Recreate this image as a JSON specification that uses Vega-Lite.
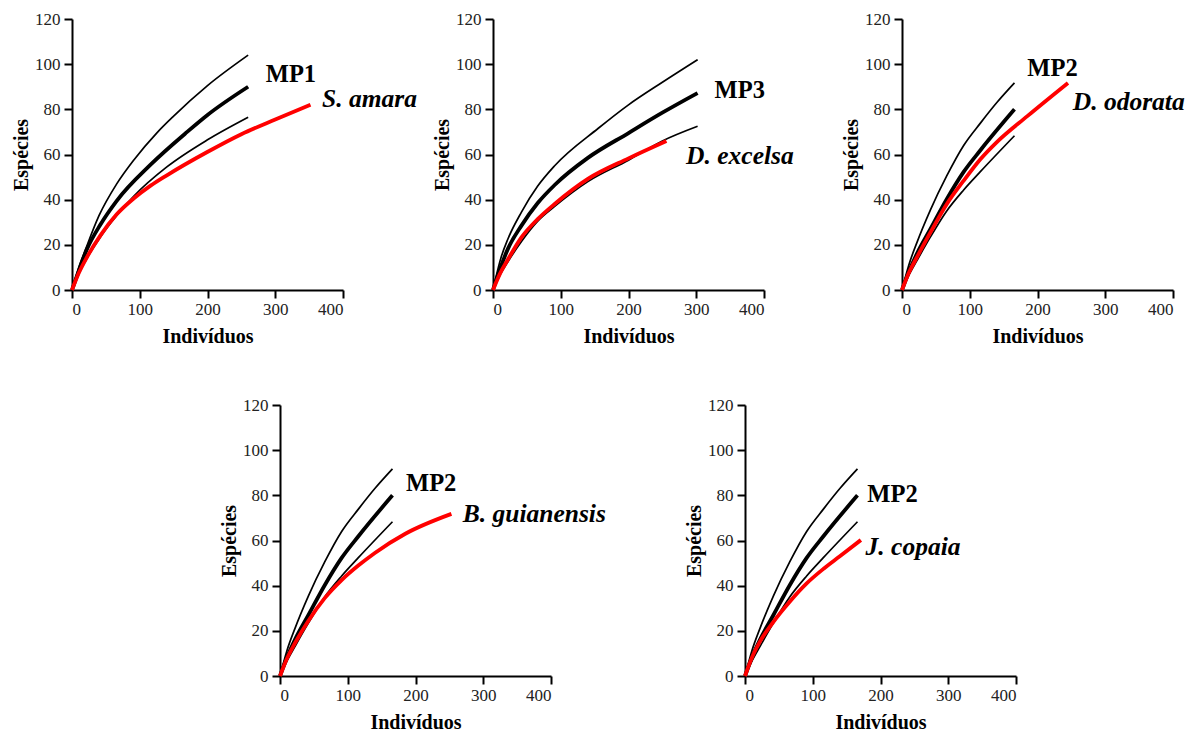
{
  "$schema": "https://vega.github.io/schema/vega-lite/v6.json",
  "background": "#ffffff",
  "padding": {"left": 11, "top": 10, "right": 2, "bottom": 2},
  "spacing": 50,
  "datasets": {
    "mp1": [
      {"series": "upper", "x": 0, "y": 0}, {"series": "upper", "x": 10, "y": 10}, {"series": "upper", "x": 20, "y": 18}, {"series": "upper", "x": 40, "y": 33}, {"series": "upper", "x": 66, "y": 47}, {"series": "upper", "x": 91, "y": 57.5}, {"series": "upper", "x": 125, "y": 69.5}, {"series": "upper", "x": 150, "y": 77}, {"series": "upper", "x": 200, "y": 90.5}, {"series": "upper", "x": 260, "y": 104},
      {"series": "mean", "x": 0, "y": 0}, {"series": "mean", "x": 10, "y": 8.5}, {"series": "mean", "x": 22, "y": 18}, {"series": "mean", "x": 42, "y": 29}, {"series": "mean", "x": 66, "y": 39.5}, {"series": "mean", "x": 116, "y": 55.5}, {"series": "mean", "x": 170, "y": 70}, {"series": "mean", "x": 200, "y": 77.5}, {"series": "mean", "x": 260, "y": 90},
      {"series": "lower", "x": 0, "y": 0}, {"series": "lower", "x": 10, "y": 7}, {"series": "lower", "x": 22, "y": 14}, {"series": "lower", "x": 42, "y": 23.5}, {"series": "lower", "x": 66, "y": 33}, {"series": "lower", "x": 91, "y": 41.5}, {"series": "lower", "x": 140, "y": 54.5}, {"series": "lower", "x": 200, "y": 66.5}, {"series": "lower", "x": 260, "y": 76.5}
    ],
    "amara": [
      {"x": 0, "y": 0}, {"x": 10, "y": 7.5}, {"x": 22, "y": 14.5}, {"x": 42, "y": 24.2}, {"x": 66, "y": 33.5}, {"x": 91, "y": 40.5}, {"x": 116, "y": 46.2}, {"x": 140, "y": 50.8}, {"x": 199, "y": 61}, {"x": 250, "y": 69}, {"x": 300, "y": 75.5}, {"x": 352, "y": 82}
    ],
    "mp3": [
      {"series": "upper", "x": 0, "y": 0}, {"series": "upper", "x": 12, "y": 14.5}, {"series": "upper", "x": 22, "y": 22.6}, {"series": "upper", "x": 42, "y": 34.5}, {"series": "upper", "x": 66, "y": 46}, {"series": "upper", "x": 91, "y": 55}, {"series": "upper", "x": 155, "y": 71.5}, {"series": "upper", "x": 200, "y": 82}, {"series": "upper", "x": 250, "y": 92}, {"series": "upper", "x": 302, "y": 102},
      {"series": "mean", "x": 0, "y": 0}, {"series": "mean", "x": 10, "y": 9}, {"series": "mean", "x": 22, "y": 18.2}, {"series": "mean", "x": 42, "y": 28.5}, {"series": "mean", "x": 66, "y": 38.5}, {"series": "mean", "x": 91, "y": 46.5}, {"series": "mean", "x": 140, "y": 58.5}, {"series": "mean", "x": 200, "y": 69.5}, {"series": "mean", "x": 250, "y": 78.5}, {"series": "mean", "x": 302, "y": 87.2},
      {"series": "lower", "x": 0, "y": 0}, {"series": "lower", "x": 10, "y": 6.5}, {"series": "lower", "x": 22, "y": 12.5}, {"series": "lower", "x": 42, "y": 21.5}, {"series": "lower", "x": 66, "y": 30.5}, {"series": "lower", "x": 91, "y": 37}, {"series": "lower", "x": 140, "y": 48}, {"series": "lower", "x": 200, "y": 57.5}, {"series": "lower", "x": 250, "y": 66}, {"series": "lower", "x": 302, "y": 72.5}
    ],
    "excelsa": [
      {"x": 0, "y": 0}, {"x": 10, "y": 7}, {"x": 22, "y": 13.5}, {"x": 42, "y": 23.3}, {"x": 66, "y": 31.4}, {"x": 91, "y": 38.1}, {"x": 140, "y": 49.2}, {"x": 200, "y": 58.3}, {"x": 256, "y": 66}
    ],
    "mp2": [
      {"series": "upper", "x": 0, "y": 0}, {"series": "upper", "x": 10, "y": 11}, {"series": "upper", "x": 22, "y": 21}, {"series": "upper", "x": 42, "y": 35.5}, {"series": "upper", "x": 66, "y": 50.5}, {"series": "upper", "x": 91, "y": 64}, {"series": "upper", "x": 116, "y": 74}, {"series": "upper", "x": 140, "y": 83}, {"series": "upper", "x": 166, "y": 91.7},
      {"series": "mean", "x": 0, "y": 0}, {"series": "mean", "x": 10, "y": 8}, {"series": "mean", "x": 22, "y": 16}, {"series": "mean", "x": 42, "y": 27}, {"series": "mean", "x": 66, "y": 40.2}, {"series": "mean", "x": 91, "y": 52.3}, {"series": "mean", "x": 116, "y": 62}, {"series": "mean", "x": 166, "y": 80},
      {"series": "lower", "x": 0, "y": 0}, {"series": "lower", "x": 10, "y": 6.5}, {"series": "lower", "x": 22, "y": 13}, {"series": "lower", "x": 42, "y": 23.5}, {"series": "lower", "x": 66, "y": 35}, {"series": "lower", "x": 91, "y": 44.3}, {"series": "lower", "x": 116, "y": 52.5}, {"series": "lower", "x": 166, "y": 68.3}
    ],
    "odorata": [
      {"x": 0, "y": 0}, {"x": 10, "y": 7.5}, {"x": 22, "y": 14.5}, {"x": 42, "y": 25.5}, {"x": 66, "y": 38}, {"x": 91, "y": 48.4}, {"x": 116, "y": 58}, {"x": 140, "y": 65.5}, {"x": 185, "y": 77}, {"x": 245, "y": 91.7}
    ],
    "guianensis": [
      {"x": 0, "y": 0}, {"x": 10, "y": 7.5}, {"x": 22, "y": 14.5}, {"x": 42, "y": 24.5}, {"x": 66, "y": 34.5}, {"x": 91, "y": 42.5}, {"x": 116, "y": 49}, {"x": 140, "y": 54.5}, {"x": 185, "y": 63}, {"x": 253, "y": 71.8}
    ],
    "copaia": [
      {"x": 0, "y": 0}, {"x": 10, "y": 8}, {"x": 22, "y": 15.2}, {"x": 42, "y": 24}, {"x": 66, "y": 32.9}, {"x": 91, "y": 41}, {"x": 116, "y": 47.5}, {"x": 140, "y": 53}, {"x": 171, "y": 60.2}
    ]
  },
  "vconcat": [
    {
      "spacing": 0,
      "bounds": "flush",
      "hconcat": [
        {
          "width": 271, "height": 271,
          "encoding": {
            "x": {"field": "x", "type": "quantitative", "scale": {"domain": [0, 400], "nice": false}, "axis": {"values": [0, 100, 200, 300, 400], "title": "Indivíduos"}},
            "y": {"field": "y", "type": "quantitative", "scale": {"domain": [0, 120], "nice": false}, "axis": {"values": [0, 20, 40, 60, 80, 100, 120], "title": "Espécies"}}
          },
          "layer": [
            {"data": {"name": "mp1"}, "mark": {"type": "line", "color": "#000000"}, "encoding": {"detail": {"field": "series"}, "strokeWidth": {"field": "series", "type": "nominal", "scale": {"type": "ordinal", "domain": ["upper", "mean", "lower"], "range": [1.7, 3.8, 1.7]}, "legend": null}}},
            {"data": {"name": "amara"}, "mark": {"type": "line", "color": "#ff0000", "strokeWidth": 3.8}},
            {"data": {"values": [{"x": 286, "y": 95, "label": "MP1"}]}, "mark": {"type": "text", "align": "left", "baseline": "middle", "fontSize": 24.5, "fontWeight": "bold", "color": "#000000"}, "encoding": {"text": {"field": "label"}}},
            {"data": {"values": [{"x": 369, "y": 84.6, "label": "S. amara"}]}, "mark": {"type": "text", "align": "left", "baseline": "middle", "fontSize": 25.5, "fontWeight": "bold", "fontStyle": "italic", "color": "#000000"}, "encoding": {"text": {"field": "label"}}}
          ]
        },
        {"width": 150, "height": 271, "data": {"values": []}, "mark": "point", "encoding": {}},
        {
          "width": 271, "height": 271,
          "encoding": {
            "x": {"field": "x", "type": "quantitative", "scale": {"domain": [0, 400], "nice": false}, "axis": {"values": [0, 100, 200, 300, 400], "title": "Indivíduos"}},
            "y": {"field": "y", "type": "quantitative", "scale": {"domain": [0, 120], "nice": false}, "axis": {"values": [0, 20, 40, 60, 80, 100, 120], "title": "Espécies"}}
          },
          "layer": [
            {"data": {"name": "mp3"}, "mark": {"type": "line", "color": "#000000"}, "encoding": {"detail": {"field": "series"}, "strokeWidth": {"field": "series", "type": "nominal", "scale": {"type": "ordinal", "domain": ["upper", "mean", "lower"], "range": [1.7, 3.8, 1.7]}, "legend": null}}},
            {"data": {"name": "excelsa"}, "mark": {"type": "line", "color": "#ff0000", "strokeWidth": 3.8}},
            {"data": {"values": [{"x": 327, "y": 88, "label": "MP3"}]}, "mark": {"type": "text", "align": "left", "baseline": "middle", "fontSize": 24.5, "fontWeight": "bold", "color": "#000000"}, "encoding": {"text": {"field": "label"}}},
            {"data": {"values": [{"x": 285, "y": 59.5, "label": "D. excelsa"}]}, "mark": {"type": "text", "align": "left", "baseline": "middle", "fontSize": 25.5, "fontWeight": "bold", "fontStyle": "italic", "color": "#000000"}, "encoding": {"text": {"field": "label"}}}
          ]
        },
        {"width": 138, "height": 271, "data": {"values": []}, "mark": "point", "encoding": {}},
        {
          "width": 271, "height": 271,
          "encoding": {
            "x": {"field": "x", "type": "quantitative", "scale": {"domain": [0, 400], "nice": false}, "axis": {"values": [0, 100, 200, 300, 400], "title": "Indivíduos"}},
            "y": {"field": "y", "type": "quantitative", "scale": {"domain": [0, 120], "nice": false}, "axis": {"values": [0, 20, 40, 60, 80, 100, 120], "title": "Espécies"}}
          },
          "layer": [
            {"data": {"name": "mp2"}, "mark": {"type": "line", "color": "#000000"}, "encoding": {"detail": {"field": "series"}, "strokeWidth": {"field": "series", "type": "nominal", "scale": {"type": "ordinal", "domain": ["upper", "mean", "lower"], "range": [1.7, 3.8, 1.7]}, "legend": null}}},
            {"data": {"name": "odorata"}, "mark": {"type": "line", "color": "#ff0000", "strokeWidth": 3.8}},
            {"data": {"values": [{"x": 185, "y": 97.9, "label": "MP2"}]}, "mark": {"type": "text", "align": "left", "baseline": "middle", "fontSize": 24.5, "fontWeight": "bold", "color": "#000000"}, "encoding": {"text": {"field": "label"}}},
            {"data": {"values": [{"x": 252, "y": 83.1, "label": "D. odorata"}]}, "mark": {"type": "text", "align": "left", "baseline": "middle", "fontSize": 25.5, "fontWeight": "bold", "fontStyle": "italic", "color": "#000000"}, "encoding": {"text": {"field": "label"}}}
          ]
        }
      ]
    },
    {
      "spacing": 0,
      "bounds": "flush",
      "hconcat": [
        {"width": 208, "height": 271, "data": {"values": []}, "mark": "point", "encoding": {}},
        {
          "width": 271, "height": 271,
          "encoding": {
            "x": {"field": "x", "type": "quantitative", "scale": {"domain": [0, 400], "nice": false}, "axis": {"values": [0, 100, 200, 300, 400], "title": "Indivíduos"}},
            "y": {"field": "y", "type": "quantitative", "scale": {"domain": [0, 120], "nice": false}, "axis": {"values": [0, 20, 40, 60, 80, 100, 120], "title": "Espécies"}}
          },
          "layer": [
            {"data": {"name": "mp2"}, "mark": {"type": "line", "color": "#000000"}, "encoding": {"detail": {"field": "series"}, "strokeWidth": {"field": "series", "type": "nominal", "scale": {"type": "ordinal", "domain": ["upper", "mean", "lower"], "range": [1.7, 3.8, 1.7]}, "legend": null}}},
            {"data": {"name": "guianensis"}, "mark": {"type": "line", "color": "#ff0000", "strokeWidth": 3.8}},
            {"data": {"values": [{"x": 186, "y": 85.2, "label": "MP2"}]}, "mark": {"type": "text", "align": "left", "baseline": "middle", "fontSize": 24.5, "fontWeight": "bold", "color": "#000000"}, "encoding": {"text": {"field": "label"}}},
            {"data": {"values": [{"x": 269.7, "y": 71.9, "label": "B. guianensis"}]}, "mark": {"type": "text", "align": "left", "baseline": "middle", "fontSize": 25.5, "fontWeight": "bold", "fontStyle": "italic", "color": "#000000"}, "encoding": {"text": {"field": "label"}}}
          ]
        },
        {"width": 194, "height": 271, "data": {"values": []}, "mark": "point", "encoding": {}},
        {
          "width": 271, "height": 271,
          "encoding": {
            "x": {"field": "x", "type": "quantitative", "scale": {"domain": [0, 400], "nice": false}, "axis": {"values": [0, 100, 200, 300, 400], "title": "Indivíduos"}},
            "y": {"field": "y", "type": "quantitative", "scale": {"domain": [0, 120], "nice": false}, "axis": {"values": [0, 20, 40, 60, 80, 100, 120], "title": "Espécies"}}
          },
          "layer": [
            {"data": {"name": "mp2"}, "mark": {"type": "line", "color": "#000000"}, "encoding": {"detail": {"field": "series"}, "strokeWidth": {"field": "series", "type": "nominal", "scale": {"type": "ordinal", "domain": ["upper", "mean", "lower"], "range": [1.7, 3.8, 1.7]}, "legend": null}}},
            {"data": {"name": "copaia"}, "mark": {"type": "line", "color": "#ff0000", "strokeWidth": 3.8}},
            {"data": {"values": [{"x": 180.5, "y": 80.2, "label": "MP2"}]}, "mark": {"type": "text", "align": "left", "baseline": "middle", "fontSize": 24.5, "fontWeight": "bold", "color": "#000000"}, "encoding": {"text": {"field": "label"}}},
            {"data": {"values": [{"x": 178, "y": 57.3, "label": "J. copaia"}]}, "mark": {"type": "text", "align": "left", "baseline": "middle", "fontSize": 25.5, "fontWeight": "bold", "fontStyle": "italic", "color": "#000000"}, "encoding": {"text": {"field": "label"}}}
          ]
        }
      ]
    }
  ],
  "config": {
    "view": {"stroke": null},
    "font": "Liberation Serif",
    "line": {"interpolate": "monotone"},
    "text": {"font": "Liberation Serif"},
    "axis": {
      "grid": false,
      "domainColor": "#000000", "domainWidth": 2,
      "tickColor": "#000000", "tickWidth": 2, "tickSize": 8,
      "labelFont": "Liberation Serif", "labelFontSize": 17, "labelColor": "#222222", "labelPadding": 3,
      "titleFont": "Liberation Serif", "titleFontSize": 20, "titleFontWeight": "bold", "titleColor": "#000000"
    },
    "axisX": {"titlePadding": 9},
    "axisY": {"titlePadding": 3, "labelPadding": 4}
  }
}
